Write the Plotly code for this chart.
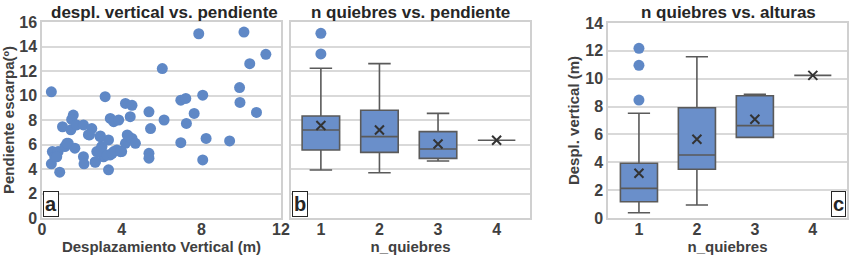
import plotly.graph_objects as go

W, H = 850, 260

# ---------------- data ----------------
# panel a: scatter (Desplazamiento Vertical (m) vs Pendiente escarpa)
scatter_x = [0.47, 0.52, 0.47, 0.89, 0.64, 0.81, 1.03, 1.15, 1.32, 1.57, 1.49, 1.45, 1.74, 1.65,
             2.08, 2.08, 2.11, 2.33, 2.50, 2.67, 2.92, 2.75, 3.17, 3.00, 3.09, 3.34, 3.34, 3.43,
             3.60, 3.85, 3.43, 3.60, 3.76, 4.00, 4.19, 4.52, 4.43, 4.19, 4.36, 4.52, 4.69, 5.37,
             5.45, 5.37, 5.37, 6.04, 6.13, 6.97, 7.22, 6.97, 7.25, 7.64, 7.87, 8.07, 8.07, 8.24,
             9.42, 9.92, 9.94, 10.14, 10.43, 10.77, 11.24, 2.84, 3.01, 3.27, 3.52, 3.94, 4.28,
             2.39, 2.93, 1.25, 0.74, 2.68]
scatter_y = [10.3, 5.42, 4.42, 3.74, 5.00, 5.42, 7.45, 5.83, 6.10, 8.40, 8.05, 7.20, 7.60, 5.70,
             7.60, 5.00, 4.42, 6.80, 7.30, 4.55, 6.64, 5.42, 9.90, 5.83, 5.00, 3.93, 6.37, 8.13,
             7.86, 8.00, 5.15, 5.42, 5.56, 5.42, 9.35, 9.20, 8.27, 6.10, 6.64, 6.50, 6.10, 8.67,
             7.30, 5.28, 4.88, 12.2, 8.00, 9.62, 9.76, 6.15, 7.72, 8.54, 15.04, 10.03, 4.74, 6.50,
             6.29, 10.65, 9.43, 15.18, 12.6, 8.62, 13.36, 5.41, 5.82, 5.14, 5.28, 5.41, 6.78,
             6.78, 6.70, 6.10, 5.00, 4.60]

categories = [1, 2, 3, 4]
cat_labels = ["1", "2", "3", "4"]

# panel b: n quiebres vs pendiente
b_lower = [3.92, 3.70, 4.65, 6.35]
b_q1 = [5.55, 5.36, 4.87, 6.35]
b_median = [7.18, 6.64, 5.63, 6.35]
b_q3 = [8.33, 8.80, 7.05, 6.35]
b_upper = [12.22, 12.60, 8.54, 6.35]
b_mean = [7.55, 7.18, 6.04, 6.35]
b_out_x = [1, 1]
b_out_y = [15.08, 13.39]

# panel c: n quiebres vs alturas
c_lower = [0.38, 0.93, 5.79, 10.24]
c_q1 = [1.17, 3.50, 5.79, 10.24]
c_median = [2.13, 4.52, 6.63, 10.24]
c_q3 = [3.93, 7.92, 8.78, 10.24]
c_upper = [7.52, 11.58, 8.88, 10.24]
c_mean = [3.21, 5.65, 7.09, 10.24]
c_out_x = [1, 1, 1]
c_out_y = [12.18, 10.96, 8.47]

# ---------------- styles ----------------
DOT = "#5F88C6"
BOXFILL = "#6A8FCA"
BOXLINE = "#5A5A5A"
GRID = "#D9D9D9"
FRAME = "#D0D0D0"
TXT = "#404040"
FONT = "Liberation Sans, Arial, sans-serif"

def px_x(p):
    return p / W

def px_y(p):
    return 1 - p / H

fig = go.Figure()

# panel a
fig.add_trace(go.Scatter(x=scatter_x, y=scatter_y, mode="markers",
                         marker=dict(color=DOT, size=11, line=dict(width=0)),
                         xaxis="x", yaxis="y", showlegend=False))

def add_boxes(xa, ya, lower, q1, med, q3, upper, mean, ox, oy):
    for i, c in enumerate(categories):
        fig.add_trace(go.Box(x=[c], q1=[q1[i]], median=[med[i]], q3=[q3[i]],
                             lowerfence=[lower[i]], upperfence=[upper[i]],
                             fillcolor=BOXFILL if i < 3 else "rgba(0,0,0,0)",
                             line=dict(color=BOXLINE, width=1.6),
                             width=0.64, whiskerwidth=0.6, boxpoints=False,
                             xaxis=xa, yaxis=ya, showlegend=False))
    fig.add_trace(go.Scatter(x=categories, y=mean, mode="markers",
                             marker=dict(symbol="x-thin", size=9, color="#333333",
                                         line=dict(width=2, color="#333333")),
                             xaxis=xa, yaxis=ya, showlegend=False))
    fig.add_trace(go.Scatter(x=ox, y=oy, mode="markers",
                             marker=dict(color=DOT, size=11, line=dict(width=0)),
                             xaxis=xa, yaxis=ya, showlegend=False))

add_boxes("x2", "y2", b_lower, b_q1, b_median, b_q3, b_upper, b_mean, b_out_x, b_out_y)
add_boxes("x3", "y3", c_lower, c_q1, c_median, c_q3, c_upper, c_mean, c_out_x, c_out_y)

tickfont = dict(family=FONT, size=16, color=TXT, weight="bold")
titlefont = dict(family=FONT, size=15, color=TXT, weight="bold")

common_y = dict(showgrid=True, gridcolor=GRID, gridwidth=1.5, zeroline=False,
                showline=True, linecolor=FRAME, linewidth=1.5, mirror=True,
                ticks="", tickfont=tickfont, dtick=2, automargin=False)
common_x = dict(showgrid=False, zeroline=False, showline=True, linecolor=FRAME,
                linewidth=1.5, mirror=True, ticks="", tickfont=tickfont, automargin=False,
                ticklabelstandoff=-4)

fig.update_layout(
    width=W, height=H, margin=dict(l=0, r=0, t=0, b=0),
    paper_bgcolor="white", plot_bgcolor="white",
    font=dict(family=FONT),
    xaxis=dict(domain=[px_x(42), px_x(281)], range=[0, 12], dtick=4,
               title=dict(text="Desplazamiento Vertical (m)", font=titlefont, standoff=0),
               **common_x),
    yaxis=dict(domain=[px_y(218), px_y(22)], range=[0, 16], anchor="x",
               title=dict(text="Pendiente escarpa(º)", font=titlefont, standoff=2),
               **common_y),
    xaxis2=dict(domain=[px_x(291), px_x(530)], range=[0.49, 4.57], anchor="y2",
                tickvals=categories, ticktext=cat_labels,
                title=dict(text="n_quiebres", font=titlefont, standoff=0),
                **common_x),
    yaxis2=dict(domain=[px_y(218), px_y(22)], range=[0, 16], anchor="x2",
                showticklabels=False, **common_y),
    xaxis3=dict(domain=[px_x(608), px_x(847)], range=[0.466, 4.59], anchor="y3",
                tickvals=categories, ticktext=cat_labels,
                title=dict(text="n_quiebres", font=titlefont, standoff=0),
                **common_x),
    yaxis3=dict(domain=[px_y(218), px_y(23)], range=[0, 14], anchor="x3",
                title=dict(text="Despl. vertical (m)", font=titlefont, standoff=2),
                **common_y),
)

titles = [("despl. vertical vs. pendiente", 164), ("n quiebres vs. pendiente", 410),
          ("n quiebres vs. alturas", 728)]
for t, cx in titles:
    fig.add_annotation(text="<b>" + t + "</b>", x=px_x(cx), y=px_y(12), xref="paper", yref="paper",
                       xanchor="center", yanchor="middle", showarrow=False,
                       font=dict(family=FONT, size=17, color="#262626"))

letters = [("a", 43, "left"), ("b", 292, "left"), ("c", 846, "right")]
for t, xx, anc in letters:
    fig.add_annotation(text="<b>" + t + "</b>", x=px_x(xx), y=px_y(217), xref="paper", yref="paper",
                       xanchor=anc, yanchor="bottom", showarrow=False,
                       font=dict(family=FONT, size=20, color="#262626"),
                       bordercolor="#262626", borderwidth=1, borderpad=1, bgcolor="white")

fig.write_html("out.html", config={"displayModeBar": False},
               post_script="document.body.style.margin='0';document.body.style.padding='0';")
